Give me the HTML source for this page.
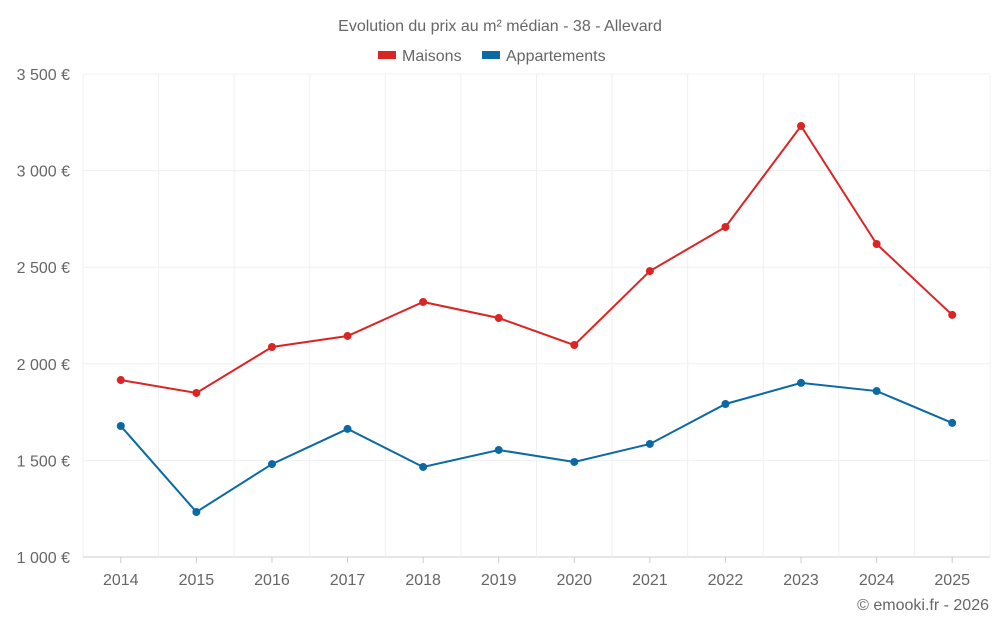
<!DOCTYPE html>
<html><head><meta charset="utf-8"><style>
body{margin:0;background:#fff;font-family:"Liberation Sans",sans-serif;}
svg text{font-family:"Liberation Sans",sans-serif;fill:#666;}
</style></head><body>
<svg id="c" width="1000" height="625">
<text x="500" y="31" text-anchor="middle" font-size="16">Evolution du prix au m² médian - 38 - Allevard</text>
<g>
<rect x="378" y="51" width="18" height="8" fill="#db2524"/>
<text x="402" y="61" font-size="16">Maisons</text>
<rect x="482" y="51" width="18" height="8" fill="#0b69a3"/>
<text x="506" y="61" font-size="16">Appartements</text>
</g>
<g id="grid"></g><g id="axes"></g><g id="series"></g>
<text x="989" y="610" text-anchor="end" font-size="16">© emooki.fr - 2026</text>
</svg>
<script>
const years=["2014","2015","2016","2017","2018","2019","2020","2021","2022","2023","2024","2025"];
const maisons=[1916,1849,2087,2144,2320,2237,2097,2480,2708,3231,2620,2253];
const appartements=[1678,1233,1481,1663,1466,1554,1492,1585,1792,1901,1859,1694];
const yTicks=[1000,1500,2000,2500,3000,3500];
const yLabels=["1 000 €","1 500 €","2 000 €","2 500 €","3 000 €","3 500 €"];
const L=83,R=990,T=74,B=557,ymin=1000,ymax=3500;
const NS="http://www.w3.org/2000/svg";
const bw=(R-L)/years.length;
const x=i=>L+bw*(i+0.5);
const y=v=>B-(v-ymin)/(ymax-ymin)*(B-T);
function mk(tag,attrs,parent){const e=document.createElementNS(NS,tag);for(const k in attrs)e.setAttribute(k,attrs[k]);document.getElementById(parent).appendChild(e);return e;}
yTicks.forEach((t,i)=>{
 const g=mk('line',{x1:L,x2:R,y1:y(t),y2:y(t),stroke:i==0?'#ccc':'#f0f0f0'},'grid');
 
 
 const tx=mk('text',{x:70,y:y(t)+6,'text-anchor':'end','font-size':16},'axes');
 tx.textContent=yLabels[i];
 
 
});
for(let i=0;i<=years.length;i++){
 const g=mk('line',{x1:L+bw*i,x2:L+bw*i,y1:T,y2:B,stroke:'#f0f0f0'},'grid');
 
 
}
years.forEach((yr,i)=>{
 const tk=mk('line',{x1:x(i),x2:x(i),y1:B,y2:B+6,stroke:'#ccc'},'axes');
 
 
 const tx=mk('text',{x:x(i),y:585,'text-anchor':'middle','font-size':16},'axes');
 tx.textContent=yr;
 
 
});
function series(vals,color,name){
 const p=mk('polyline',{points:vals.map((v,i)=>x(i)+','+y(v)).join(' '),fill:'none',stroke:color,'stroke-width':2},'series');
 
 
 vals.forEach((v,i)=>{
  const c=mk('circle',{cx:x(i),cy:y(v),r:4,fill:color},'series');
  
  
 });
}
series(maisons,'#db2524','maisons');
series(appartements,'#0b69a3','appartements');
</script>
</body></html>
